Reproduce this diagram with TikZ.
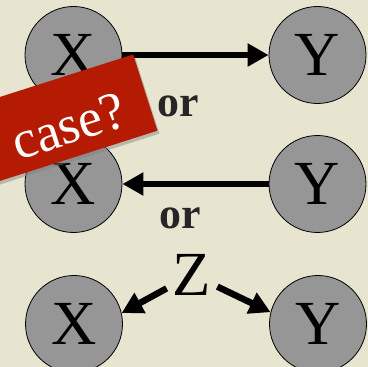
\documentclass[tikz,border=0pt]{standalone}
\usepackage{fontspec}
\setmainfont{Liberation Serif}
\usetikzlibrary{arrows.meta,shadows}
\definecolor{Paper}{HTML}{E7E5D0}
\definecolor{NodeGray}{HTML}{969696}
\definecolor{BannerRed}{HTML}{B51A02}

\begin{document}
\begin{tikzpicture}[x=1bp,y=1bp,>={Triangle[length=21bp,width=22bp]}]
\tikzstyle{var}=[circle,draw,line width=0.8bp,fill=NodeGray,minimum size=97bp,inner sep=0pt,font=\fontsize{63}{63}\selectfont]
\tikzstyle{orlbl}=[font=\fontsize{44}{44}\selectfont\bfseries,text=black!85]
\tikzstyle{link}=[->,line width=6.5bp]
\tikzstyle{banner}=[fill=BannerRed,text=white,rotate=17.7,anchor=east,minimum height=80bp,text width=200bp,align=right,inner xsep=25bp,inner ysep=0pt,text height=52bp,text depth=0pt,font=\fontsize{54}{54}\selectfont,drop shadow={opacity=0.45,shadow xshift=2bp,shadow yshift=-3bp}]
\fill[Paper] (0,0) rectangle (368,367);
\useasboundingbox (0,0) rectangle (368,367);
% causal structures
\node[var] (x1) at (73.5,312) {X};
\node[var] (y1) at (317.5,312) {Y};
\node[var] (x2) at (73.5,183) {X};
\node[var] (y2) at (317.5,183) {Y};
\node[var] (x3) at (74,43) {X};
\node[var] (y3) at (318,43) {Y};
\node[font=\fontsize{63}{63}\selectfont,inner xsep=6bp,inner ysep=2bp] (z) at (192,92.5) {Z};
\draw[link] (x1) -- (y1);
\draw[link] (y2) -- (x2);
\draw[link] (z) -- (x3.13);
\draw[link] (z) -- (y3.166);
\node[orlbl] (or1) at (178,261) {or};
\node[orlbl] (or2) at (180,149) {or};
% label
\node[banner] (case) at (145.5,274.5) {case?};
\end{tikzpicture}
\end{document}
